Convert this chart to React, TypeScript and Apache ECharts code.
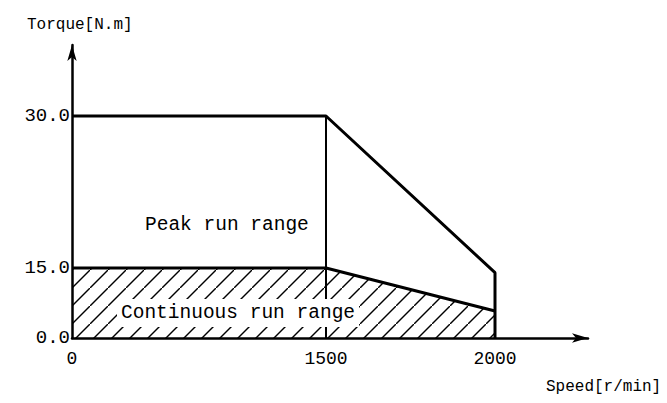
import React, { useEffect, useRef } from "react";
import * as echarts from "echarts";

// ---- data ----
const speedTicks = [0, 1500, 2000];
const speedTickLabels = ["0", "1500", "2000"];
const torqueTicks = [0, 15, 30];
const torqueTickLabels = ["0.0", "15.0", "30.0"];

const peakSpeed = [0, 1500, 2000, 2000];
const peakTorque = [30, 30, 14.0, 0];
const contSpeed = [0, 1500, 2000];
const contTorque = [15, 15, 5.8];
const dividerSpeed = [1500, 1500];
const dividerTorque = [0, 30];

// schematic (piecewise-linear) scale stops of the drawing
const speedStops = [0, 1500, 2000];
const speedScale = [0, 254, 423];
const torqueStops = [0, 15, 30];
const torqueScale = [0, 70, 222];

const X_MAX = 516;
const Y_MAX = 293;

function piecewise(v: number, from: number[], to: number[]): number {
  for (let i = 1; i < from.length; i++) {
    if (v <= from[i] || i === from.length - 1) {
      const t = (v - from[i - 1]) / (from[i] - from[i - 1]);
      return to[i - 1] + t * (to[i] - to[i - 1]);
    }
  }
  return v;
}
const sx = (s: number) => piecewise(s, speedStops, speedScale);
const ty = (t: number) => piecewise(t, torqueStops, torqueScale);

const pairs = (xs: number[], ys: number[]) => xs.map((x, i) => [sx(x), ty(ys[i])]);

const MONO = '"Liberation Mono", "DejaVu Sans Mono", monospace';

const hatchSvg =
  "<svg xmlns='http://www.w3.org/2000/svg' width='18' height='18'>" +
  "<path d='M-3,21 L21,-3' stroke='black' stroke-width='1.4' fill='none'/></svg>";
const hatchUrl = "data:image/svg+xml;charset=utf-8," + encodeURIComponent(hatchSvg);

export default function App() {
  const ref = useRef<HTMLDivElement>(null);
  useEffect(() => {
    document.body.style.margin = "0";
    if (!ref.current) return;
    const chart = echarts.init(ref.current, undefined, { renderer: "svg" });
    const labelFor = (v: number, ticks: number[], labels: string[], f: (n: number) => number) => {
      for (let i = 0; i < ticks.length; i++) {
        if (Math.abs(f(ticks[i]) - v) < 0.5) return labels[i];
      }
      return "";
    };
    const axisLine = {
      show: true,
      symbol: ["none", "arrow"],
      symbolSize: [7, 16],
      lineStyle: { color: "#000", width: 2.5 },
    };
    chart.setOption({
      animation: false,
      backgroundColor: "#fff",
      grid: { left: 72, top: 45, width: X_MAX, height: Y_MAX, containLabel: false, outerBoundsMode: "none" },
      xAxis: {
        type: "value",
        min: 0,
        max: X_MAX,
        axisLine,
        axisTick: { show: false },
        splitLine: { show: false },
        axisLabel: {
          customValues: speedTicks.map(sx),
          formatter: (v: number) => labelFor(v, speedTicks, speedTickLabels, sx),
          color: "#000",
          fontFamily: MONO,
          fontSize: 18,
          margin: 12,
        },
      },
      yAxis: {
        type: "value",
        min: 0,
        max: Y_MAX,
        axisLine,
        axisTick: { show: false },
        splitLine: { show: false },
        axisLabel: {
          customValues: torqueTicks.map(ty),
          formatter: (v: number) => labelFor(v, torqueTicks, torqueTickLabels, ty),
          color: "#000",
          fontFamily: MONO,
          fontSize: 19,
          margin: 2,
        },
      },
      series: [
        {
          name: "Continuous",
          type: "line",
          data: pairs(contSpeed, contTorque),
          symbol: "none",
          lineStyle: { color: "#000", width: 3 },
          itemStyle: { color: "#000" },
          areaStyle: {
            color: { image: hatchUrl, repeat: "repeat", imageWidth: 18, imageHeight: 18 },
            opacity: 1,
          },
          z: 2,
        },
        {
          name: "Divider",
          type: "line",
          data: pairs(dividerSpeed, dividerTorque),
          symbol: "none",
          lineStyle: { color: "#000", width: 2 },
          z: 3,
        },
        {
          name: "Peak",
          type: "line",
          data: pairs(peakSpeed, peakTorque),
          symbol: "none",
          lineStyle: { color: "#000", width: 3 },
          z: 4,
        },
      ],
      graphic: [
        {
          type: "text",
          z: 100,
          style: { text: "Torque[N.m]", x: 27, y: 25, font: `16px ${MONO}`, fill: "#000", verticalAlign: "middle" },
        },
        {
          type: "text",
          z: 100,
          style: { text: "Speed[r/min]", x: 546, y: 387, font: `16px ${MONO}`, fill: "#000", verticalAlign: "middle" },
        },
        {
          type: "text",
          z: 100,
          style: { text: "Peak run range", x: 145, y: 225, font: `19.5px ${MONO}`, fill: "#000", verticalAlign: "middle" },
        },
        {
          type: "text",
          z: 100,
          style: {
            text: "Continuous run range",
            x: 117,
            y: 313,
            font: `19.5px ${MONO}`,
            fill: "#000",
            verticalAlign: "middle",
            backgroundColor: "#fff",
            padding: [4, 4],
          },
        },
      ],
    });
    return () => chart.dispose();
  }, []);
  return (
    <div
      ref={ref}
      style={{ position: "fixed", left: 0, top: 0, width: 667, height: 403 }}
    />
  );
}
